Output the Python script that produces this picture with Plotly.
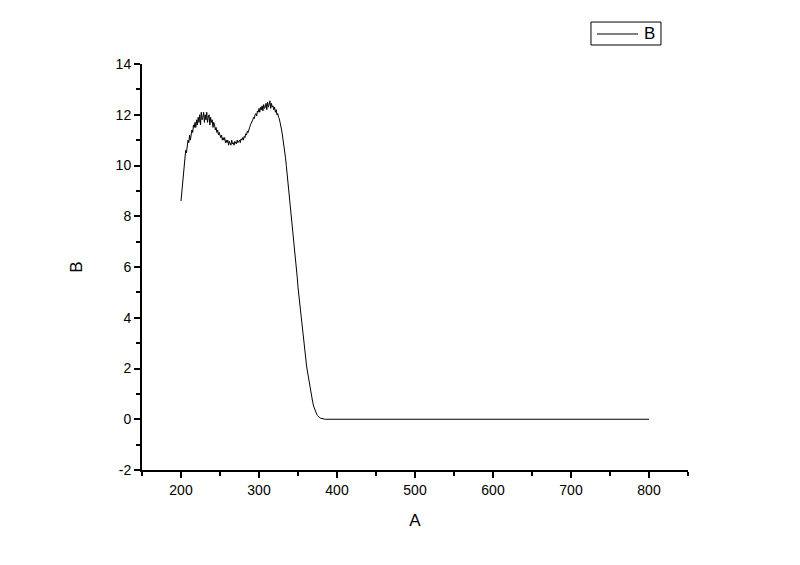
import plotly.graph_objects as go

# wavelength-like x values (1 step) and readings
a_start = 200
b_values = [
    8.6, 8.9, 9.3, 9.6, 10.0, 10.1, 10.6, 10.5, 10.9, 11.0,
    10.9, 11.2, 11.0, 11.3, 11.4, 11.3, 11.6, 11.5, 11.7, 11.5,
    11.8, 11.6, 11.9, 11.7, 12.0, 11.6, 12.1, 11.8, 11.9, 12.1,
    11.7, 12.0, 11.8, 12.1, 11.7, 11.9, 12.0, 11.6, 11.9, 11.7,
    11.8, 11.5, 11.7, 11.6, 11.4, 11.5, 11.3, 11.4, 11.2, 11.3,
    11.2, 11.1, 11.2, 11.0, 11.1, 11.0, 11.1, 10.9, 11.0, 10.9,
    11.0, 10.8, 10.95, 10.9, 10.8, 11.0, 10.85, 10.9, 10.8, 10.95,
    10.9, 10.85, 11.0, 10.9, 10.95, 11.0, 10.9, 11.05, 11.0, 11.1,
    11.0, 11.15, 11.1, 11.25, 11.2, 11.35, 11.3, 11.45, 11.5, 11.6,
    11.65, 11.75, 11.8, 11.9, 11.85, 12.0, 12.05, 11.95, 12.15, 12.1,
    12.25, 12.1, 12.3, 12.2, 12.35, 12.15, 12.4, 12.25, 12.3, 12.45,
    12.2, 12.5, 12.3, 12.4, 12.55, 12.25, 12.45, 12.3, 12.35, 12.2,
    12.3, 12.1, 12.2, 12.0, 12.05, 11.9, 11.85, 11.7, 11.6, 11.4,
    11.2, 11.0, 10.8, 10.6, 10.3, 10.0, 9.7, 9.4, 9.1, 8.8,
    8.5, 8.2, 7.9, 7.6, 7.2, 6.9, 6.6, 6.2, 5.9, 5.6,
    5.2, 4.9, 4.6, 4.3, 4.0, 3.7, 3.4, 3.1, 2.85, 2.6,
    2.35, 2.1, 1.9, 1.7, 1.5, 1.3, 1.1, 0.95, 0.8, 0.65,
    0.52, 0.42, 0.33, 0.26, 0.2, 0.15, 0.11, 0.08, 0.06, 0.04,
    0.03, 0.02, 0.015, 0.01, 0.005, 0.0,
]
a_tail = [800]
b_tail = [0.0]

y_ticks = [-2, 0, 2, 4, 6, 8, 10, 12, 14]
y_tick_labels = ["-2", "0", "2", "4", "6", "8", "10", "12", "14"]
series_name = "B"

a_values = list(range(a_start, a_start + len(b_values))) + a_tail
b_all = b_values + b_tail

font_family = "Arial, Liberation Sans, sans-serif"

fig = go.Figure()
fig.add_trace(
    go.Scatter(
        x=a_values,
        y=b_all,
        mode="lines",
        name=series_name,
        line=dict(color="black", width=1),
        showlegend=False,
    )
)

# compact boxed legend like the original (plotly's own legend is too tall)
fig.add_shape(
    type="rect", xref="paper", yref="paper",
    x0=0.8223, x1=0.9505, y0=1.0468, y1=1.1034,
    line=dict(color="black", width=1), fillcolor="white",
)
fig.add_shape(
    type="line", xref="paper", yref="paper",
    x0=0.8333, x1=0.9084, y0=1.0739, y1=1.0739,
    line=dict(color="black", width=1),
)
fig.add_annotation(
    text=series_name, xref="paper", yref="paper",
    x=0.9304, y=1.0739, xanchor="center", yanchor="middle",
    showarrow=False, font=dict(size=17),
)

# page body has an 8px margin, so the figure is a bit smaller than the window
fig.update_layout(
    width=792,
    height=557,
    margin=dict(l=134, r=112, t=56, b=95),
    paper_bgcolor="white",
    plot_bgcolor="white",
    font=dict(family=font_family, size=14, color="black"),
)

fig.update_xaxes(
    title=dict(text="A", font=dict(size=17), standoff=17),
    range=[150, 850],
    dtick=100,
    tick0=0,
    ticks="outside",
    ticklen=6,
    tickwidth=2,
    tickcolor="black",
    minor=dict(ticks="outside", dtick=50, tick0=0, ticklen=4, tickwidth=2, tickcolor="black"),
    showline=True,
    linecolor="black",
    linewidth=2,
    showgrid=False,
    zeroline=False,
    tickfont=dict(size=14),
)
fig.update_yaxes(
    title=dict(text="B", font=dict(size=17), standoff=29),
    range=[-2, 14],
    tickvals=y_ticks,
    ticktext=y_tick_labels,
    ticks="outside",
    ticklen=6,
    tickwidth=2,
    tickcolor="black",
    minor=dict(ticks="outside", dtick=1, tick0=0, ticklen=4, tickwidth=2, tickcolor="black"),
    showline=True,
    linecolor="black",
    linewidth=2,
    showgrid=False,
    zeroline=False,
    tickfont=dict(size=14),
)

fig.write_html("out.html")
